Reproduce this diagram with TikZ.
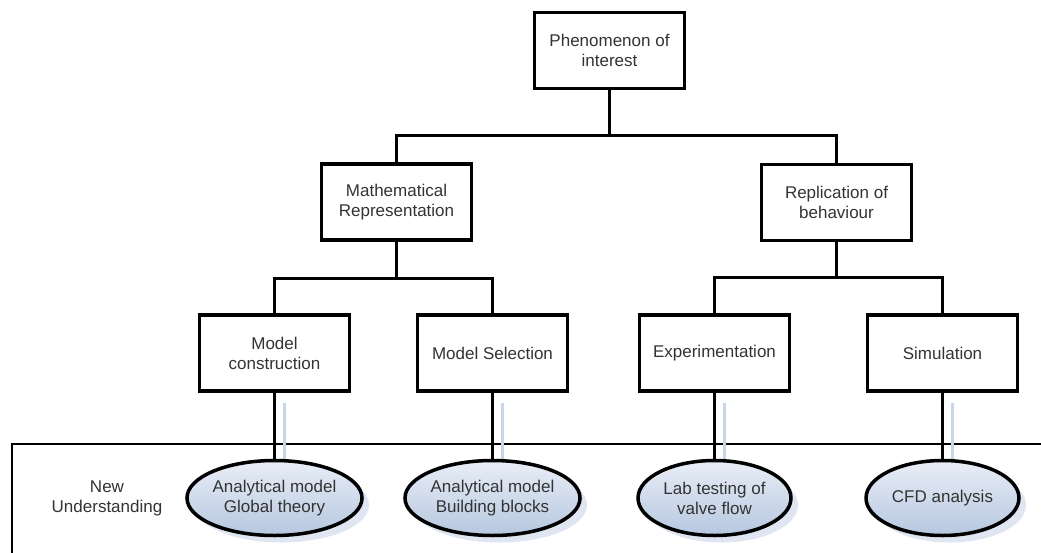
\documentclass[tikz,border=0pt]{standalone}
\usepackage{fontspec}
\setmainfont{Liberation Sans}
\usetikzlibrary{shapes.geometric,shadows}

\definecolor{textgray}{HTML}{333333}
\definecolor{ovaltop}{HTML}{E9EEF7}
\definecolor{ovalbot}{HTML}{B6C7DF}
\definecolor{ghostblue}{HTML}{C9D5E8}

\begin{document}
\begin{tikzpicture}[x=1pt,y=-1pt,
  box node/.style={rectangle,draw,line width=3.5pt,minimum width=150pt,minimum height=76pt,
    align=center,text=textgray,font=\fontsize{17}{20}\selectfont},
  oval node/.style={ellipse,draw,line width=3.5pt,minimum width=153pt,minimum height=75pt,
    inner sep=0pt,align=center,text=textgray,font=\fontsize{17}{20}\selectfont,
    top color=ovaltop,bottom color=ovalbot,
    drop shadow={shadow xshift=7pt,shadow yshift=-7pt,fill=ghostblue,opacity=.6}},
  link/.style={line width=3pt},
  ghost/.style={line width=3pt,draw=ghostblue}]

  \useasboundingbox (0,0) rectangle (1041,552);

  % band along the bottom
  \coordinate (bandR) at (1045,443.5);
  \coordinate (bandL) at (11.5,556);
  \draw[line width=2pt] (bandR) -| (bandL);
  \node[text=textgray,font=\fontsize{17}{20}\selectfont,align=center] (nu) at (107,498) {New\\Understanding};

  \node[box node] (phen) at (609.5,50.5) {Phenomenon of\\interest};
  \node[box node] (math) at (396.5,202) {Mathematical\\Representation};
  \node[box node] (repl) at (836.5,202.5) {Replication of\\behaviour};
  \node[box node] (mcon) at (274.5,353) {Model\\construction};
  \node[box node] (msel) at (492.5,353) {Model Selection};
  \node[box node] (expt) at (714.5,353) {Experimentation};
  \node[box node] (simu) at (942.5,353) {Simulation};

  \coordinate (j0) at (609.5,135.5);
  \coordinate (j1) at (396.5,278.5);
  \coordinate (j2) at (836.5,277.5);

  % shadows of the drop lines
  \foreach \b in {mcon,msel,expt,simu}
    \draw[ghost] ([shift={(10,10)}]\b.south) -- ++(0,68);

  \node[oval node] (oglob) at (274.5,498) {Analytical model\\Global theory};
  \node[oval node] (oblock) at (492.5,498) {Analytical model\\Building blocks};
  \node[oval node] (olab) at (714.5,498) {Lab testing of\\valve flow};
  \node[oval node] (ocfd) at (942.5,498) {CFD analysis};

  \draw[link] (phen.south) -- (j0);
  \draw[link] (math.north) |- (j0) -| (repl.north);
  \draw[link] (math.south) -- (j1);
  \draw[link] (mcon.north) |- (j1) -| (msel.north);
  \draw[link] (repl.south) -- (j2);
  \draw[link] (expt.north) |- (j2) -| (simu.north);

  \foreach \b/\e in {mcon/oglob,msel/oblock,expt/olab,simu/ocfd}
    \draw[link] (\b.south) -- (\e.north);
\end{tikzpicture}
\end{document}
